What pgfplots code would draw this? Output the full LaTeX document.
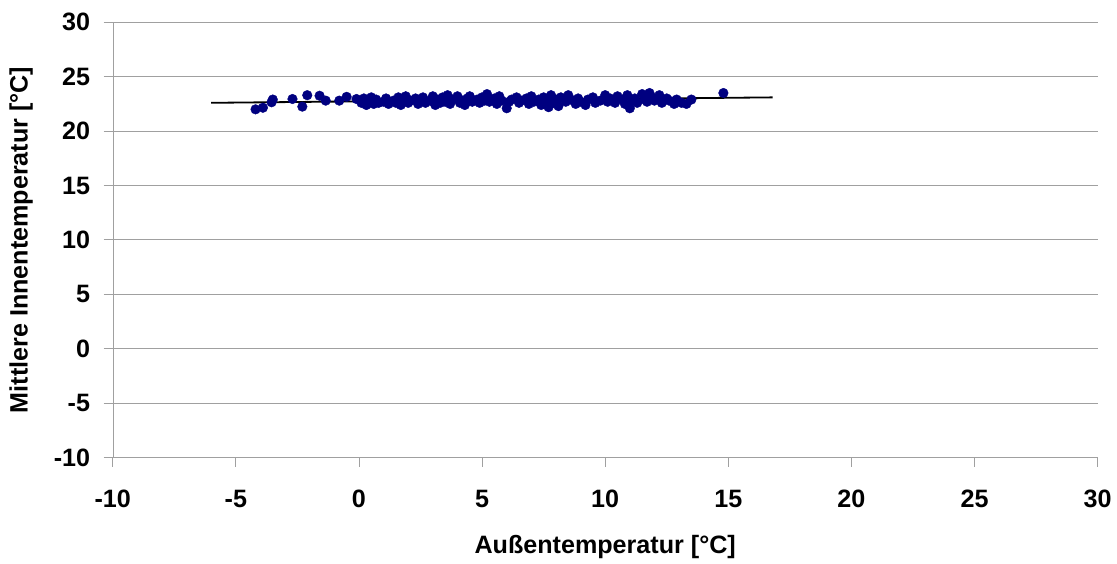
\documentclass[border={6pt 2pt 2pt 10pt}]{standalone}
\usepackage{pgfplots}
\pgfplotsset{compat=1.18}
\usepackage{fontspec}
\setmainfont{Liberation Sans}
\definecolor{navy}{RGB}{0,0,128}
\definecolor{gridgray}{RGB}{160,160,160}

\pgfplotstableread{
x y
-4.2 22.0
-3.9 22.15
-3.5 22.9
-3.55 22.65
-2.7 22.95
-2.3 22.25
-2.1 23.3
-1.6 23.25
-1.35 22.8
-0.8 22.8
-0.5 23.15
-0.1 22.95
0.1 22.6
0.2 23.0
0.3 22.4
0.4 22.8
0.5 23.1
0.6 22.5
0.7 22.9
0.8 22.6
1.0 22.7
1.1 23.0
1.2 22.5
1.4 22.8
1.5 22.6
1.6 23.1
1.7 22.4
1.8 22.9
1.9 23.2
2.0 22.6
2.1 22.8
2.3 23.0
2.4 22.5
2.5 22.9
2.6 23.1
2.7 22.6
2.9 22.8
3.0 23.2
3.1 22.4
3.2 22.9
3.3 22.6
3.4 23.1
3.5 22.7
3.6 23.3
3.7 22.5
3.8 22.9
4.0 23.2
4.1 22.6
4.2 22.8
4.3 22.4
4.4 23.0
4.5 23.2
4.6 22.7
4.8 22.9
4.9 22.6
5.0 23.1
5.1 22.8
5.2 23.4
5.3 22.7
5.5 23.0
5.6 22.5
5.7 23.2
5.8 22.8
6.0 22.1
6.1 22.7
6.2 22.9
6.4 23.1
6.5 22.6
6.6 22.8
6.8 23.0
6.9 22.5
7.0 23.2
7.1 22.7
7.3 22.9
7.4 22.4
7.5 23.1
7.6 22.8
7.7 22.2
7.8 23.3
7.9 22.6
8.0 22.9
8.1 22.3
8.2 23.1
8.4 22.7
8.5 23.3
8.6 22.9
8.8 22.5
8.9 23.0
9.0 22.7
9.2 22.4
9.3 22.9
9.5 23.1
9.6 22.6
9.8 22.8
10.0 23.3
10.1 22.7
10.2 23.0
10.4 22.6
10.5 23.2
10.7 22.9
10.8 22.5
10.9 23.3
11.0 22.1
11.1 22.8
11.2 23.0
11.3 22.6
11.5 23.4
11.6 22.9
11.7 22.7
11.8 23.5
11.9 23.1
12.0 22.8
12.2 23.3
12.3 22.6
12.5 23.0
12.6 22.8
12.8 22.5
12.9 22.9
13.1 22.6
13.3 22.5
13.5 22.9
14.8 23.5
}\messdaten

\pgfplotstableread{
x y
-6.0 22.6
16.8 23.1
}\trend

\begin{document}
\begin{tikzpicture}
\begin{axis}[
  scale only axis,
  width=980pt, height=433pt,
  xmin=-10, xmax=30, ymin=-10, ymax=30,
  xtick={-10,-5,...,30}, ytick={-10,-5,...,30},
  axis x line*=bottom, axis y line*=left,
  axis line style={gridgray, -},
  tick style={gridgray, line width=0.8pt},
  major tick length=9pt,
  tick align=outside,
  ymajorgrids,
  major grid style={gridgray, line width=0.9pt},
  ticklabel style={font=\fontsize{25}{28}\selectfont\bfseries},
  /pgf/number format/assume math mode=true,
  xticklabel style={yshift=-20pt},
  yticklabel style={xshift=-10pt},
  xlabel={Außentemperatur [°C]},
  ylabel={Mittlere Innentemperatur [°C]},
  label style={font=\fontsize{25}{28}\selectfont\bfseries},
  xlabel style={yshift=-20pt},
  ylabel style={yshift=14pt},
  clip=false,
]
\addplot[only marks, mark=*, mark size=4.8pt, mark options={fill=navy, draw=navy}] table {\messdaten};
\addplot[black, line width=1.8pt] table {\trend};
\end{axis}
\end{tikzpicture}
\end{document}
